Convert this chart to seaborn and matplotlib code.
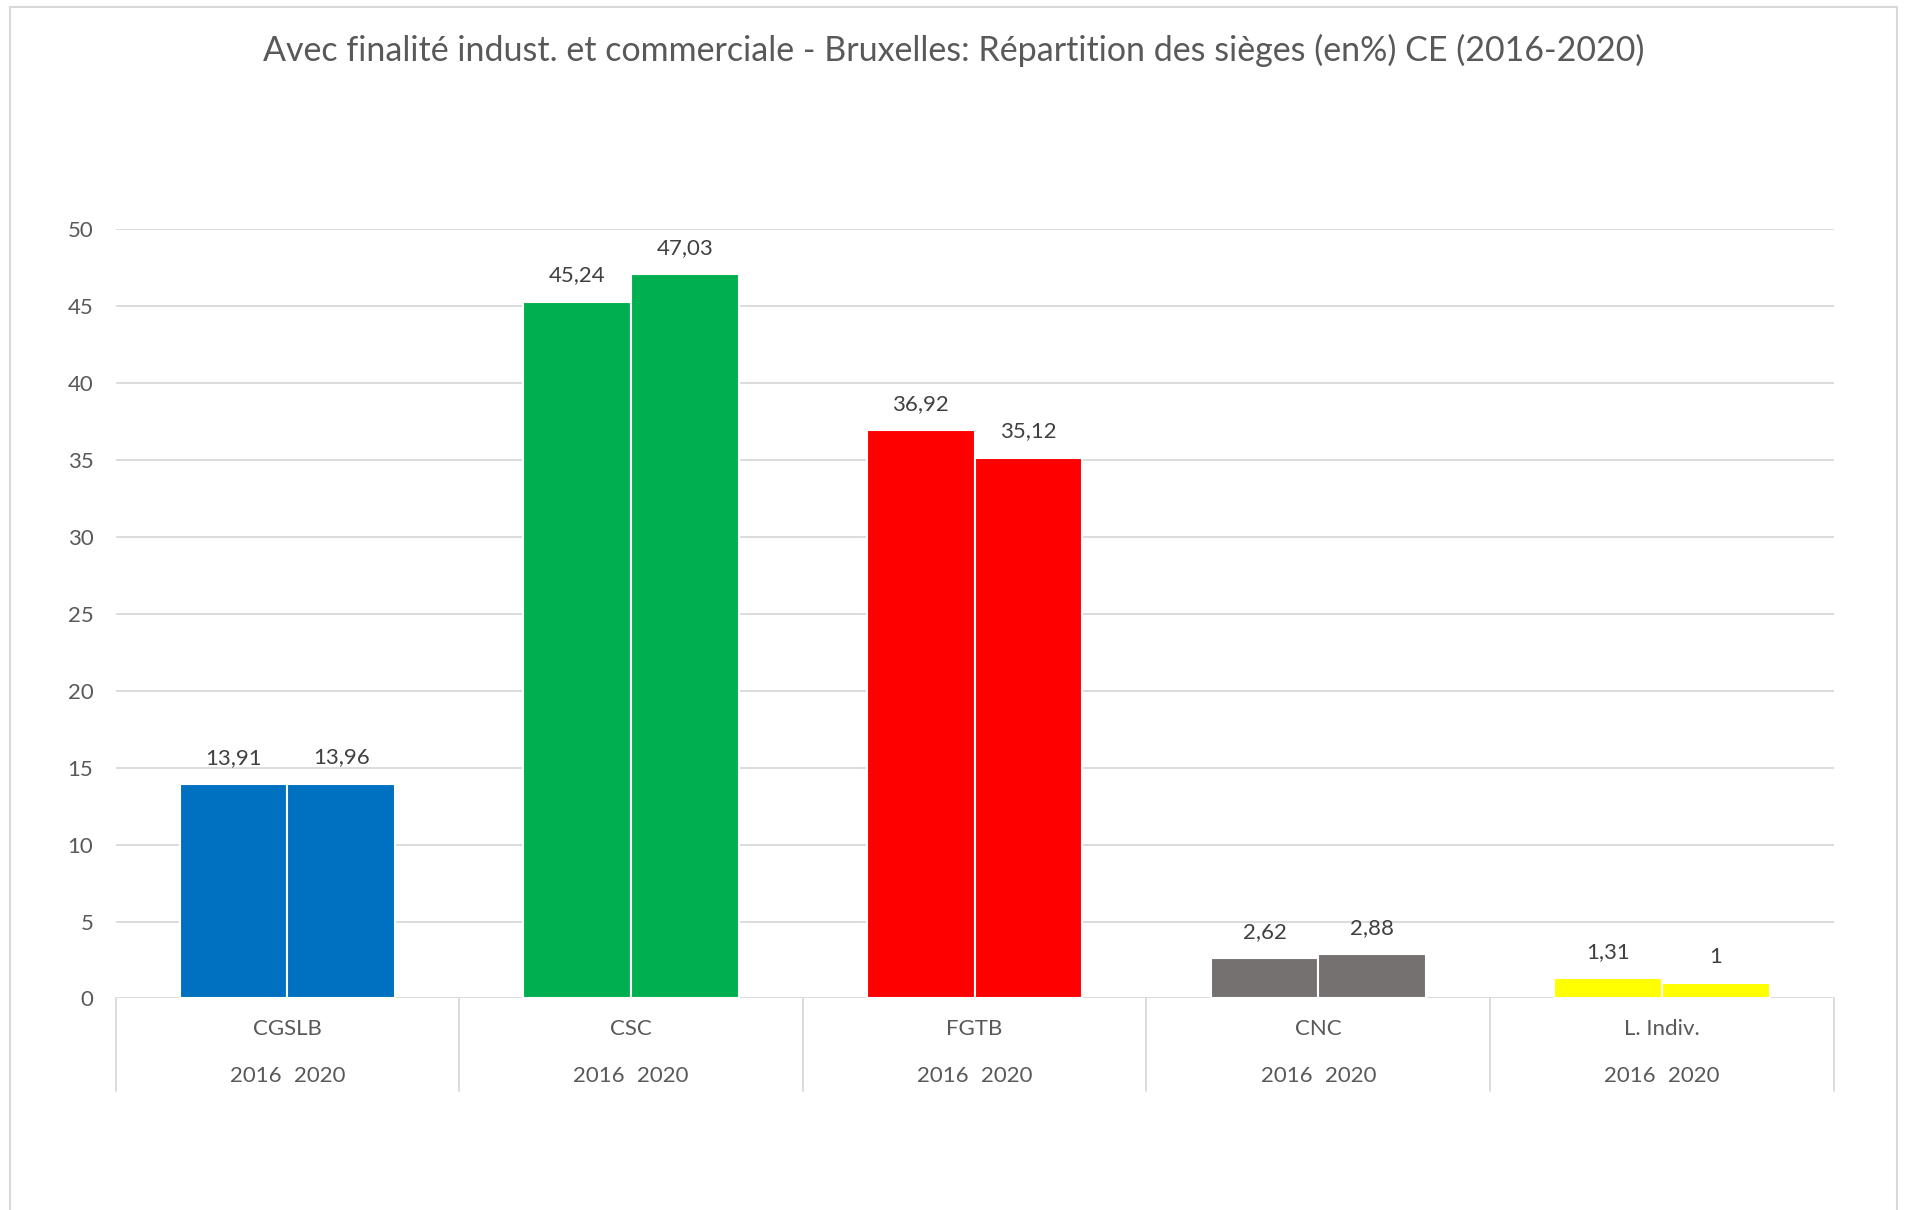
import numpy as np
import pandas as pd
import matplotlib.pyplot as plt
import matplotlib.transforms as mtransforms
from matplotlib.patches import Rectangle
import seaborn as sns

# ----------------------------------
# Data
# ----------------------------------

categories = ["CGSLB", "CSC", "FGTB", "CNC", "L. Indiv."]
years = ["2016", "2020"]

values_2016 = [13.91, 45.24, 36.92, 2.62, 1.31]
values_2020 = [13.96, 47.03, 35.12, 2.88, 1.00]

bar_colors = ["#0070C0", "#00B050", "#FF0000", "#767171", "#FFFF00"]

title = "Avec finalité indust. et commerciale - Bruxelles: Répartition des sièges (en%) CE (2016-2020)"

df = pd.DataFrame({
    "Syndicat": categories * 2,
    "Année": [years[0]] * len(categories) + [years[1]] * len(categories),
    "Valeur": values_2016 + values_2020,
})

# ----------------------------------
# Style
# ----------------------------------

sns.set_theme(style="white")
plt.rcParams["font.family"] = ["Lato", "DejaVu Sans"]

text_color = "#595959"
grid_color = "#D9D9D9"
font_size = 16

fig = plt.figure(figsize=(19.07, 12.10), dpi=100)
ax = fig.add_axes([0.0606, 0.1748, 0.901, 0.6362])

# ----------------------------------
# Bars
# ----------------------------------

sns.barplot(
    data=df,
    x="Syndicat",
    y="Valeur",
    hue="Année",
    order=categories,
    hue_order=years,
    width=0.626,
    edgecolor="white",
    linewidth=1.5,
    legend=False,
    ax=ax,
)

for container in ax.containers:
    for i, bar in enumerate(container):
        bar.set_facecolor(bar_colors[i])

    labels = [
        f"{bar.get_height():g}".replace(".", ",")
        for bar in container
    ]
    annotations = ax.bar_label(
        container,
        labels=labels,
        padding=19,
        fontsize=font_size,
        color="#404040",
    )
    # centre the labels on the offset point
    for t in annotations:
        t.set_verticalalignment("center")

# ----------------------------------
# Axes
# ----------------------------------

ax.set_ylim(0, 50)
ax.set_xlim(-0.5, len(categories) - 0.5)
ax.set_yticks(range(0, 51, 5))
ax.tick_params(axis="y", length=0, pad=16, labelsize=font_size, labelcolor=text_color)
ax.set_xticks([])
ax.set_xlabel("")
ax.set_ylabel("")

ax.yaxis.grid(True, color=grid_color, linewidth=1.3)
ax.set_axisbelow(True)
sns.despine(ax=ax, left=True, bottom=True)

# category boxes under the axis
trans = mtransforms.blended_transform_factory(ax.transData, ax.transAxes)

for i in range(len(categories) + 1):
    ax.plot(
        [i - 0.5, i - 0.5],
        [0, -0.12],
        transform=trans,
        color=grid_color,
        linewidth=1.3,
        clip_on=False,
    )

for i, cat in enumerate(categories):
    ax.text(i, -0.0396, cat, transform=trans, ha="center", va="center",
            fontsize=font_size, color=text_color)
    ax.text(i - 0.093, -0.1007, years[0], transform=trans, ha="center",
            va="center", fontsize=font_size, color=text_color)
    ax.text(i + 0.093, -0.1007, years[1], transform=trans, ha="center",
            va="center", fontsize=font_size, color=text_color)

# ----------------------------------
# Title and frame
# ----------------------------------

fig.text(0.5, 0.958, title, ha="center", va="center",
         fontsize=24.5, color=text_color)

fig.patches.append(
    Rectangle(
        (0.005, -0.01),
        0.99,
        1.004,
        transform=fig.transFigure,
        fill=False,
        edgecolor=grid_color,
        linewidth=1.5,
    )
)

fig.savefig("out.png", dpi=100)
plt.close(fig)
